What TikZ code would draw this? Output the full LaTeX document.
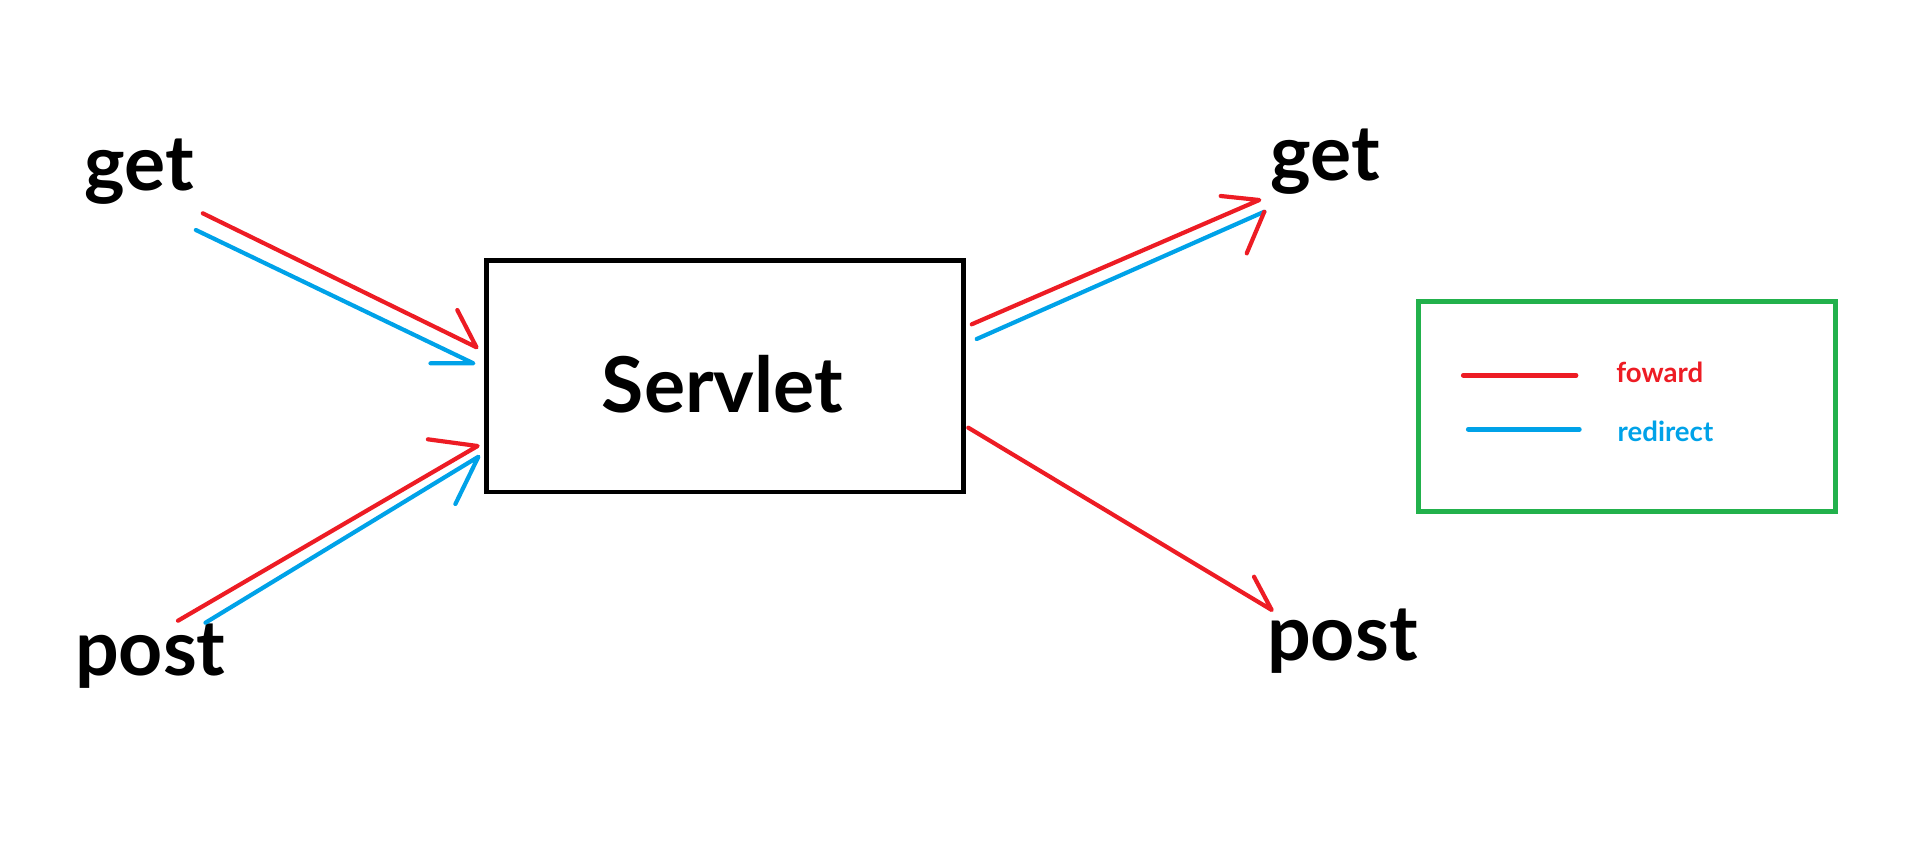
\documentclass[tikz,border=0pt]{standalone}
\usepackage{fontspec}
\setmainfont{Lato}
\definecolor{pred}{HTML}{ED1C24}
\definecolor{pblue}{HTML}{00A2E8}
\definecolor{pgreen}{HTML}{22B14C}
\begin{document}
\begin{tikzpicture}[x=0.5pt,y=-0.5pt,
  lbl/.style={anchor=base west, inner sep=0, font=\fontsize{38.5}{40}\selectfont\bfseries},
  leg/.style={anchor=base west, inner sep=0, font=\fontsize{13.8}{15}\selectfont\bfseries},
  fwd/.style={draw=pred, line width=2.1pt, line cap=round, line join=round},
  rdr/.style={draw=pblue, line width=2.1pt, line cap=round, line join=round}]
\useasboundingbox (0,0) rectangle (1911,864);
% servlet box
\node[draw, line width=2.3pt, minimum width=238.5pt, minimum height=115.65pt, inner sep=0] (servlet) at (724.8,376.4) {};
\node[lbl] (slt) at (601.5,412.7) {Servlet};
% labels
\node[lbl] (getL) at (84,190.7) {get};
\node[lbl] (postL) at (74.6,675) {post};
\node[lbl] (getR) at (1270,180) {get};
\node[lbl] (postR) at (1266.7,660) {post};
% legend
\node[draw=pgreen, line width=2.3pt, minimum width=208.5pt, minimum height=105pt, inner sep=0] (legend) at (1626.8,406.7) {};
\coordinate (lr1) at (1463.3,375.3);
\coordinate (lr2) at (1576,375.3);
\coordinate (lb1) at (1468.3,429.3);
\coordinate (lb2) at (1579.3,429.3);
\draw[fwd, line width=2.4pt] (lr1) -- (lr2);
\draw[rdr, line width=2.4pt] (lb1) -- (lb2);
\node[leg, text=pred] (lfwd) at (1616,382.7) {foward};
\node[leg, text=pblue] (lrdr) at (1617.3,441.7) {redirect};
% top-left arrows
\coordinate (r1s) at (202.8,213.3);
\coordinate (r1t) at (476.5,347.3);
\coordinate (r1b) at (457.3,310);
\coordinate (b1s) at (195.9,230);
\coordinate (b1t) at (473.4,363.3);
\coordinate (b1b) at (430.5,363.3);
\draw[fwd] (r1s) -- (r1t) -- (r1b);
\draw[rdr] (b1s) -- (b1t) -- (b1b);
% bottom-left arrows
\coordinate (r2s) at (178,620.7);
\coordinate (r2t) at (477.6,446);
\coordinate (r2b) at (427.9,439.3);
\coordinate (b2s) at (205.5,622.7);
\coordinate (b2t) at (478.4,456.7);
\coordinate (b2b) at (455.4,504);
\draw[fwd] (r2s) -- (r2t) -- (r2b);
\draw[rdr] (b2s) -- (b2t) -- (b2b);
% top-right arrows
\coordinate (r3s) at (971.7,324.3);
\coordinate (r3t) at (1259.3,200);
\coordinate (r3b) at (1220.7,196);
\coordinate (b3s) at (976.7,339);
\coordinate (b3t) at (1264.3,211.7);
\coordinate (b3b) at (1246.7,253.3);
\draw[fwd] (r3s) -- (r3t) -- (r3b);
\draw[rdr] (b3s) -- (b3t);
\draw[fwd] (b3t) -- (b3b);
% bottom-right arrow
\coordinate (r4s) at (968.3,427.7);
\coordinate (r4t) at (1271.7,610);
\coordinate (r4b) at (1254,576.7);
\draw[fwd] (r4s) -- (r4t) -- (r4b);
\end{tikzpicture}
\end{document}
